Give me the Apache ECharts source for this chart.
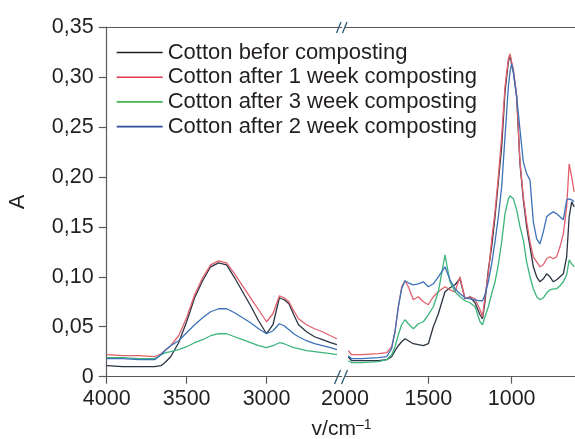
<!DOCTYPE html>
<html>
<head>
<meta charset="utf-8">
<script src="https://cdn.jsdelivr.net/npm/echarts@6/dist/echarts.min.js"></script>
<style>
html,body{margin:0;padding:0;background:#fff;}
#chart{width:575px;height:439px;}
</style>
</head>
<body>
<div id="chart"></div>
<script>
// ---- data ----
const seriesNames = ['Cotton befor composting', 'Cotton after 1 week composting', 'Cotton after 3 week composting', 'Cotton after 2 week composting'];

// left part (4000 - 2560 cm-1)
const wnLeft = [4000, 3900, 3800, 3700, 3660, 3630, 3600, 3550, 3500, 3450, 3400, 3350, 3300, 3250, 3200, 3150, 3100, 3050, 3000, 2960, 2920, 2890, 2860, 2830, 2800, 2750, 2700, 2650, 2600, 2560];
const blackLeft = [0.011, 0.010, 0.010, 0.010, 0.011, 0.015, 0.020, 0.034, 0.055, 0.079, 0.096, 0.110, 0.114, 0.112, 0.099, 0.085, 0.071, 0.056, 0.043, 0.052, 0.079, 0.077, 0.073, 0.062, 0.052, 0.045, 0.040, 0.037, 0.034, 0.032];
const redLeft = [0.022, 0.021, 0.021, 0.020, 0.023, 0.027, 0.031, 0.041, 0.059, 0.082, 0.099, 0.112, 0.116, 0.114, 0.103, 0.091, 0.079, 0.067, 0.055, 0.063, 0.081, 0.079, 0.075, 0.066, 0.058, 0.052, 0.048, 0.045, 0.041, 0.038];
const greenLeft = [0.019, 0.019, 0.018, 0.018, 0.022, 0.024, 0.025, 0.027, 0.030, 0.034, 0.037, 0.041, 0.043, 0.043, 0.040, 0.037, 0.034, 0.031, 0.029, 0.031, 0.034, 0.033, 0.031, 0.029, 0.028, 0.026, 0.025, 0.024, 0.023, 0.022];
const blueLeft = [0.018, 0.018, 0.017, 0.017, 0.022, 0.027, 0.031, 0.036, 0.044, 0.052, 0.059, 0.065, 0.068, 0.068, 0.064, 0.059, 0.054, 0.048, 0.043, 0.046, 0.053, 0.051, 0.047, 0.043, 0.040, 0.036, 0.033, 0.031, 0.029, 0.027];

// right part (1980 - 625 cm-1)
const wnRight = [1980, 1960, 1900, 1800, 1750, 1720, 1700, 1680, 1660, 1640, 1620, 1590, 1560, 1530, 1500, 1470, 1440, 1400, 1370, 1340, 1310, 1280, 1250, 1220, 1190, 1175, 1160, 1140, 1120, 1100, 1080, 1060, 1040, 1020, 1010, 1000, 990, 970, 950, 930, 910, 890, 870, 850, 830, 810, 790, 770, 750, 730, 710, 690, 670, 655, 640, 625];
const blackRight = [0.020, 0.016, 0.016, 0.016, 0.017, 0.020, 0.026, 0.031, 0.035, 0.038, 0.036, 0.033, 0.032, 0.031, 0.033, 0.050, 0.063, 0.085, 0.089, 0.092, 0.098, 0.078, 0.080, 0.074, 0.062, 0.058, 0.075, 0.107, 0.130, 0.160, 0.195, 0.230, 0.285, 0.315, 0.322, 0.312, 0.305, 0.280, 0.213, 0.177, 0.150, 0.130, 0.110, 0.100, 0.095, 0.098, 0.103, 0.100, 0.095, 0.097, 0.100, 0.103, 0.120, 0.160, 0.175, 0.170];
const redRight = [0.026, 0.022, 0.022, 0.023, 0.024, 0.030, 0.045, 0.070, 0.090, 0.096, 0.090, 0.077, 0.080, 0.075, 0.072, 0.080, 0.085, 0.090, 0.087, 0.085, 0.100, 0.078, 0.080, 0.078, 0.067, 0.060, 0.080, 0.103, 0.137, 0.165, 0.200, 0.240, 0.290, 0.318, 0.323, 0.315, 0.308, 0.282, 0.215, 0.180, 0.155, 0.135, 0.120, 0.115, 0.110, 0.112, 0.118, 0.120, 0.118, 0.120, 0.130, 0.143, 0.170, 0.213, 0.200, 0.185];
const greenRight = [0.016, 0.014, 0.014, 0.015, 0.017, 0.022, 0.030, 0.042, 0.052, 0.057, 0.053, 0.048, 0.053, 0.055, 0.062, 0.070, 0.085, 0.122, 0.095, 0.085, 0.080, 0.076, 0.074, 0.070, 0.055, 0.052, 0.060, 0.070, 0.083, 0.095, 0.112, 0.135, 0.163, 0.178, 0.181, 0.180, 0.178, 0.167, 0.150, 0.137, 0.115, 0.100, 0.088, 0.080, 0.077, 0.079, 0.084, 0.087, 0.088, 0.088, 0.091, 0.095, 0.102, 0.117, 0.113, 0.110];
const blueRight = [0.021, 0.018, 0.018, 0.019, 0.020, 0.028, 0.045, 0.070, 0.088, 0.096, 0.094, 0.092, 0.093, 0.095, 0.090, 0.093, 0.100, 0.110, 0.097, 0.088, 0.083, 0.079, 0.078, 0.077, 0.076, 0.076, 0.082, 0.095, 0.113, 0.135, 0.160, 0.190, 0.240, 0.290, 0.305, 0.313, 0.305, 0.280, 0.247, 0.215, 0.203, 0.197, 0.155, 0.138, 0.133, 0.145, 0.160, 0.163, 0.165, 0.163, 0.160, 0.157, 0.177, 0.178, 0.177, 0.175];

const xTicksLeft = [4000, 3500, 3000];
const xLabelsRight = [2000, 1500, 1000];
const xTicksRight = [1500, 1000];

// ---- styles ----
const lineColors = ['#2b3442', '#e0606e', '#3cb47c', '#3d72b8'];
const legendColors = ['#231f20', '#e23a4a', '#42b54e', '#2e4f9e'];
const axisColor = '#5a5a5a';
const textColor = '#231f20';
const FONT = 'Liberation Sans, Arial, sans-serif';
const TICK_FS = 21.5;

const leftData = [blackLeft, redLeft, greenLeft, blueLeft];
const rightData = [blackRight, redRight, greenRight, blueRight];

const chart = echarts.init(document.getElementById('chart'), null, {renderer: 'canvas'});

const series = [];
for (let s = 0; s < 4; s++) {
  series.push({
    name: seriesNames[s], type: 'line', xAxisIndex: 0, yAxisIndex: 0,
    symbol: 'none', smooth: false, animation: false,
    lineStyle: {width: 1.3, color: lineColors[s]}, itemStyle: {color: lineColors[s]},
    data: wnLeft.map((x, i) => [x, leftData[s][i]])
  });
  series.push({
    name: seriesNames[s], type: 'line', xAxisIndex: 1, yAxisIndex: 1,
    symbol: 'none', smooth: false, animation: false,
    lineStyle: {width: 1.3, color: lineColors[s]}, itemStyle: {color: lineColors[s]},
    data: wnRight.map((x, i) => [x, rightData[s][i]])
  });
}

const yLabelFmt = v => (Math.abs(v) < 1e-9 ? '0' : v.toFixed(2).replace('.', ','));
const xLabelFmt = v => String(Math.round(v));

const option = {
  backgroundColor: '#fff',
  animation: false,
  textStyle: {fontFamily: FONT},
  grid: [
    {left: 106.7, top: 27, width: 235, height: 349.7},
    {left: 345, top: 27, width: 230, height: 349.7}
  ],
  xAxis: [
    {
      type: 'value', gridIndex: 0, inverse: true, min: 2530, max: 4000,
      axisLine: {show: true, lineStyle: {color: axisColor, width: 1.2}},
      axisTick: {show: true, inside: false, length: 7, customValues: xTicksLeft, lineStyle: {color: axisColor, width: 1.2}},
      axisLabel: {customValues: xTicksLeft, formatter: xLabelFmt, margin: 11, fontSize: TICK_FS, color: textColor, fontFamily: FONT},
      splitLine: {show: false}
    },
    {
      type: 'value', gridIndex: 1, inverse: true, min: 620, max: 2000,
      axisLine: {show: true, lineStyle: {color: axisColor, width: 1.2}},
      axisTick: {show: true, inside: false, length: 7, customValues: xTicksRight, lineStyle: {color: axisColor, width: 1.2}},
      axisLabel: {customValues: xLabelsRight, formatter: xLabelFmt, margin: 11, fontSize: TICK_FS, color: textColor, fontFamily: FONT, showMinLabel: true, showMaxLabel: true},
      splitLine: {show: false}
    },
    {
      type: 'value', gridIndex: 0, position: 'top', inverse: true, min: 2530, max: 4000,
      axisLine: {show: true, lineStyle: {color: axisColor, width: 1.2}},
      axisTick: {show: false}, axisLabel: {show: false}, splitLine: {show: false}
    },
    {
      type: 'value', gridIndex: 1, position: 'top', inverse: true, min: 620, max: 2000,
      axisLine: {show: true, lineStyle: {color: axisColor, width: 1.2}},
      axisTick: {show: false}, axisLabel: {show: false}, splitLine: {show: false}
    }
  ],
  yAxis: [
    {
      type: 'value', gridIndex: 0, min: 0, max: 0.35, interval: 0.05,
      name: 'A', nameLocation: 'middle', nameGap: 78,
      nameTextStyle: {fontSize: 22, color: textColor, fontFamily: FONT},
      axisLine: {show: true, lineStyle: {color: axisColor, width: 1.2}},
      axisTick: {show: true, inside: false, length: 8, lineStyle: {color: axisColor, width: 1.2}},
      axisLabel: {formatter: yLabelFmt, margin: 13, fontSize: TICK_FS, color: textColor, fontFamily: FONT},
      splitLine: {show: false}
    },
    {
      type: 'value', gridIndex: 1, min: 0, max: 0.35, interval: 0.05, show: false,
      splitLine: {show: false}
    }
  ],
  legend: {
    orient: 'vertical', left: 116.7, top: 41.5, padding: 0,
    itemWidth: 46, itemHeight: 14, itemGap: 2.7,
    icon: 'path://M0,7 L46,7 L46,8.6 L0,8.6 Z',
    textStyle: {fontSize: 22, color: textColor, fontFamily: FONT, lineHeight: 22},
    data: seriesNames.map((n, i) => ({name: n, itemStyle: {color: legendColors[i]}, lineStyle: {color: legendColors[i]}}))
  },
  graphic: [
    {type: 'line', silent: true, shape: {x1: 334.5, y1: 384, x2: 340.5, y2: 370}, style: {stroke: '#2f5b76', lineWidth: 1.3}},
    {type: 'line', silent: true, shape: {x1: 341.5, y1: 384, x2: 347.5, y2: 370}, style: {stroke: '#2f5b76', lineWidth: 1.3}},
    {type: 'line', silent: true, shape: {x1: 336.5, y1: 33, x2: 341, y2: 22}, style: {stroke: '#2f5b76', lineWidth: 1.3}},
    {type: 'line', silent: true, shape: {x1: 342.5, y1: 33, x2: 347, y2: 22}, style: {stroke: '#2f5b76', lineWidth: 1.3}},
    {
      type: 'text', silent: true, x: 341.5, y: 429,
      style: {
        text: '{a|v/cm}{b|–1}', align: 'center', verticalAlign: 'middle',
        rich: {
          a: {fontSize: 21, fontFamily: FONT, fill: textColor, lineHeight: 22},
          b: {fontSize: 14, fontFamily: FONT, fill: textColor, verticalAlign: 'top', lineHeight: 14}
        }
      }
    }
  ],
  series: series
};
chart.setOption(option);
</script>
</body>
</html>
